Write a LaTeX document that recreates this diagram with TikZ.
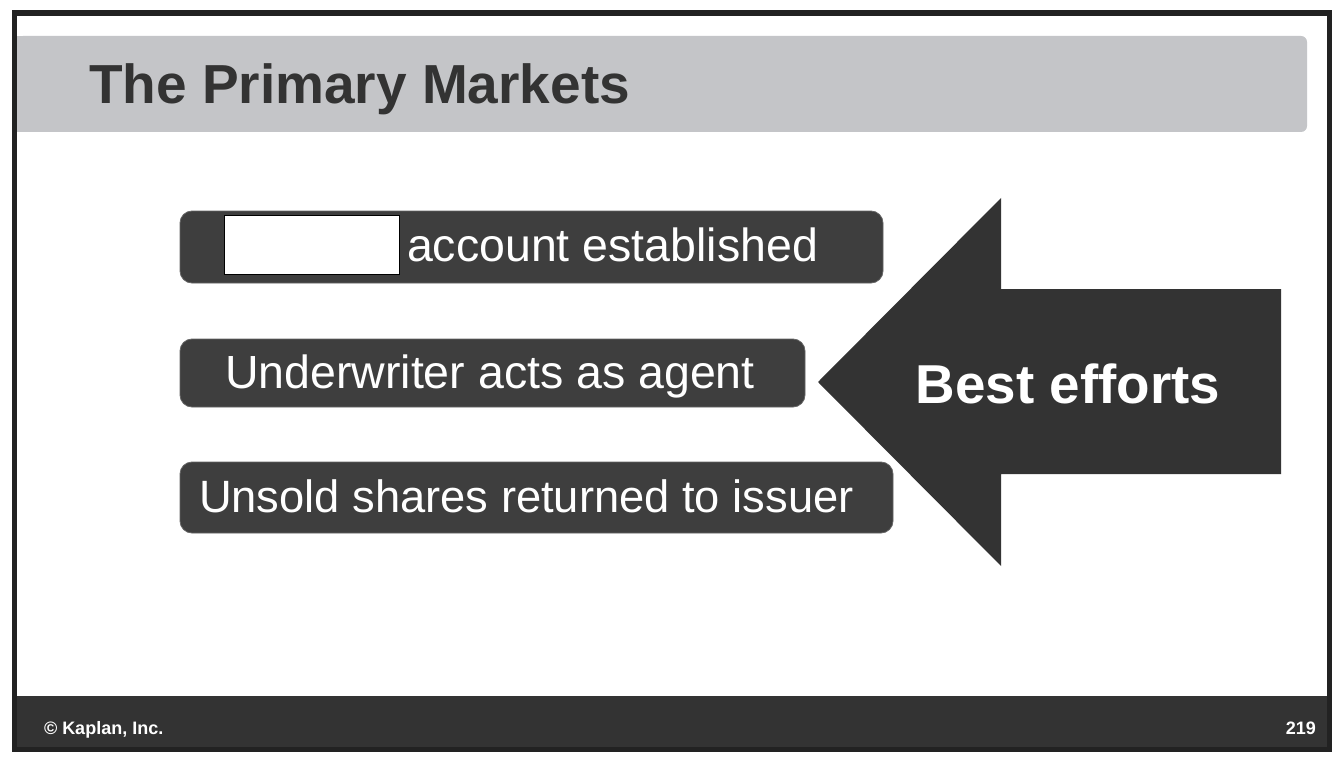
\documentclass[tikz,border=0pt]{standalone}
\usepackage{fontspec}
\setmainfont{Liberation Sans}
\usepackage{xcolor}
\definecolor{titlegray}{HTML}{C4C5C8}
\definecolor{bardark}{HTML}{3E3E3E}
\definecolor{inkdark}{HTML}{333333}
\definecolor{framedark}{HTML}{222222}

\begin{document}
\begin{tikzpicture}[x=1pt,y=-1pt,
  every node/.style={inner sep=0pt,outer sep=0pt},
  barbox/.style={fill=bardark,draw=bardark!80,line width=0.8pt,rounded corners=12pt,anchor=north west},
  bartext/.style={text=white,font=\fontsize{46.5}{52}\selectfont,anchor=base west},
  blankbox/.style={fill=white,draw=black,line width=1pt,anchor=north west},
  foottext/.style={text=white,font=\fontsize{18}{20}\selectfont\bfseries}]
\useasboundingbox (0,0) rectangle (1334,765);
\fill[white] (0,0) rectangle (1334,765);
\fill[titlegray,rounded corners=6pt] (17,36) rectangle (1307,132);
\fill[titlegray] (17,36) rectangle (60,132);
\node[anchor=base west,text=inkdark,font=\fontsize{55}{60}\selectfont\bfseries] (title) at (89,104) {The Primary Markets};
\node[barbox,minimum width=703pt,minimum height=72pt] (bar1) at (180,211) {};
\node[barbox,minimum width=625pt,minimum height=68pt] (bar2) at (180,339) {};
\node[barbox,minimum width=713pt,minimum height=71pt] (bar3) at (180,462) {};
\node[blankbox,minimum width=175pt,minimum height=59pt] (blank) at (224,215) {};
\node[bartext] (acct) at (407,261) {account established};
\node[bartext] (agent) at (225,388) {Underwriter acts as agent};
\node[bartext,font=\fontsize{45.3}{50}\selectfont] (unsold) at (199,512) {Unsold shares returned to issuer};
\fill[inkdark] (818,382) -- (1001,198) -- (1001,289) -- (1281,289) -- (1281,474) -- (1001,474) -- (1001,566) -- cycle;
\node[anchor=base,text=white,font=\fontsize{54.8}{60}\selectfont\bfseries] (best) at (1068,403) {Best efforts};
\fill[inkdark] (12,696) rectangle (1332,752);
\draw[framedark,line width=5.5pt] (14.5,13) rectangle (1329.5,749.5);
\node[foottext,anchor=base west] (copy) at (44,734) {© Kaplan, Inc.};
\node[foottext,anchor=base east] (page) at (1316,734) {219};
\end{tikzpicture}
\end{document}
